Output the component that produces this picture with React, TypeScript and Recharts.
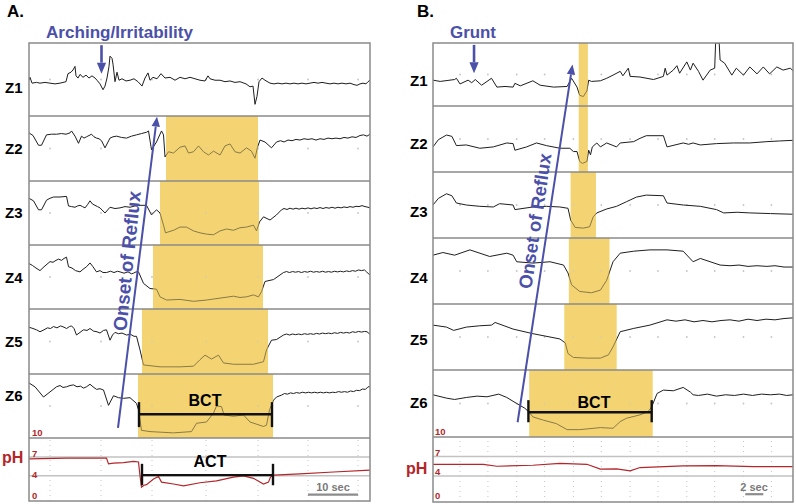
import React from 'react';
import {
  LineChart,
  Line,
  XAxis,
  YAxis,
  ReferenceArea,
  ReferenceLine,
  ReferenceDot,
} from 'recharts';

type Pt = [number, number];

// ---- Panel A (time in s, impedance = % of channel height, pH units) ----
const aZ1: Pt[] = [[0,49],[0.2,53],[0.6,45],[1.5,46],[2.2,45],[3.2,46],[4.2,45],[5.2,44],[6.2,45],[7.4,47],[7.8,58],[8.4,60],[8.8,63],[9.2,68],[9.4,55],[9.8,52],[10.2,57],[10.8,53],[11.4,56],[12,52],[12.6,55],[13.2,52],[13.6,49],[14.2,44],[14.8,36],[15.2,41],[15.6,52],[16,68],[16.2,82],[16.6,79],[16.8,71],[17.2,47],[17.6,60],[18,49],[18.6,51],[19.4,48],[20.2,49],[21,51],[21.8,47],[22.6,41],[23.2,52],[23.8,59],[24.2,49],[24.8,53],[25.6,51],[26.4,58],[27.2,52],[28.2,53],[29.2,49],[30.2,53],[31.2,51],[32.2,53],[33.2,51],[34.2,49],[35.2,48],[35.8,55],[36.2,51],[37.2,49],[38.2,49],[39.2,47],[40.2,48],[41.2,46],[42.2,47],[43.4,44],[44.2,40],[44.8,41],[45.2,16],[45.6,27],[46,47],[46.6,52],[47.2,49],[48.2,45],[49,44],[49.8,45],[50.6,44],[51.4,45],[52.2,44],[53,45],[53.8,44],[54.6,45],[55.4,44],[56.2,45],[57,46],[57.8,45],[58.6,46],[59.4,45],[60.2,44],[61,45],[61.8,44],[62.6,45],[63.4,44],[64.2,45],[65,43],[65.6,42],[66.2,44],[66.8,45],[67.4,44],[67.8,47],[68.2,49]];
const aZ2: Pt[] = [[0,74],[0.8,70],[1.9,55],[2.5,55],[3.5,71],[4.5,72],[5.5,72],[6.5,73],[7.4,72],[8.2,74],[8.5,77],[9.2,69],[9.9,58],[10.5,69],[11,66],[11.5,68],[12,70],[12.5,72],[13,68],[13.5,66],[14,65],[14.5,62],[15.2,51],[16.2,66],[16.8,68],[17.5,69],[18.5,67],[19.5,66],[20.5,69],[21.5,71],[22.5,73],[23.5,75],[23.9,77],[24.5,48],[25.5,60],[26.5,77],[26.9,71],[27.2,37],[27.9,45],[28.9,43],[30.2,52],[31.2,54],[31.9,43],[32.9,45],[33.9,54],[34.9,45],[35.9,40],[36.9,46],[38.2,40],[39.2,54],[40.2,57],[41.2,45],[42.2,43],[43.5,51],[44.5,46],[45.2,35],[45.7,52],[46.2,63],[47.2,60],[48.5,51],[49.5,60],[50.3,62],[51,60],[51.8,63],[52.6,62],[53.4,64],[54.2,63],[55,65],[55.8,64],[56.6,65],[57.4,63],[58.2,65],[59,64],[59.8,66],[60.6,65],[61.4,66],[62.2,65],[63,67],[63.8,66],[64.6,68],[65.4,67],[66.2,70],[66.9,71],[67.6,69],[68.2,72]];
const aZ3: Pt[] = [[0,73],[0.9,69],[1.9,55],[2.5,55],[3.5,70],[4.2,73],[4.9,75],[6.2,75],[7.5,76],[7.9,61],[8.5,60],[9.2,59],[9.7,61],[10.2,62],[10.7,60],[11.2,58],[11.7,63],[12.2,69],[12.7,64],[13.2,62],[13.7,60],[14.2,58],[15.2,50],[16.2,59],[17.2,57],[18.2,58],[19.2,60],[20.2,59],[21.2,61],[22.2,62],[23.5,62],[24.5,47],[25.5,55],[26.2,50],[26.9,31],[27.3,19],[28.9,23],[30.2,28],[31.5,28],[32.9,22],[34.2,19],[35.5,17],[36.9,16],[38.2,22],[39.5,25],[40.9,23],[42.2,27],[43.5,28],[44.9,31],[45.5,22],[46.1,36],[46.9,44],[48.2,39],[49.5,47],[50.5,55],[51,57],[51.6,55.5],[52.2,57.5],[52.8,56],[53.4,57.5],[54,56],[54.6,57.5],[55.2,56.5],[55.8,58],[56.4,56.5],[57,58],[57.6,57],[58.2,58.5],[58.8,57],[59.4,58.5],[60,57.5],[60.6,59],[61.2,57.5],[61.8,59],[62.4,58],[63,59.5],[63.6,58.5],[64.2,60],[64.8,59],[65.4,60.5],[66,60],[66.6,61.5],[67.2,60],[67.8,59],[68.2,58]];
const aZ4: Pt[] = [[0,71],[0.7,68],[1.4,64],[2.2,60],[3,66],[3.6,70],[4.2,74],[4.8,73],[5.4,76],[5.9,78],[6.5,76],[7,79],[7.5,81],[7.9,66],[8.6,64],[9.3,60],[10.2,58],[10.8,62],[11.5,66],[12.2,72],[12.8,66],[13.5,58],[14.2,60],[14.8,57],[15.5,57],[16.3,59],[17,57],[17.7,59],[18.2,58],[19,56],[19.8,58],[20.5,55],[20.9,56],[21.4,58],[21.9,58],[22.9,40],[24.2,32],[25.5,31],[26.2,19],[27.5,14],[30.2,15],[32.9,12],[35.5,14],[38.2,17],[40.9,20],[42.2,18],[43.5,19],[44.9,22],[45.9,19],[46.5,27],[47.2,43],[48.9,46],[50.9,57],[51.5,58.5],[52.1,57],[52.7,58.5],[53.3,57.5],[53.9,58.5],[54.5,57],[55.1,58.5],[55.7,57.5],[56.3,59],[56.9,57.5],[57.5,58.5],[58.1,57.5],[58.7,59],[59.3,57.5],[59.9,58.5],[60.5,57.5],[61.1,59],[61.7,58],[62.3,59],[62.9,58],[63.5,59.5],[64.1,58.5],[64.7,60],[65.3,59],[65.9,61],[66.5,60],[67.1,61],[67.5,58],[68.2,53]];
const aZ5: Pt[] = [[0,72],[0.8,70],[1.5,68],[2.2,65],[3,68],[3.7,71],[4.3,70],[4.9,73],[5.6,71],[6.3,74],[7,72],[7.5,70],[8.1,73],[8.5,74],[9,70],[9.5,60],[10.2,64],[10.9,68],[11.6,67],[12.2,70],[12.9,66],[13.6,65],[14.2,63],[14.9,67],[15.5,68],[16.2,52],[16.7,60],[17.2,64],[17.9,62],[18.6,63],[19.5,60],[20.3,61],[21,58],[21.5,58],[22.2,37],[22.9,14],[26.2,11],[30.2,11],[32.9,12],[34.2,22],[35.2,29],[36.5,23],[37.9,29],[38.9,17],[40.9,15],[44.9,15],[46.9,19],[47.5,37],[48.5,52],[49.5,53],[50.9,60],[51.5,61.5],[52.1,60],[52.7,61.5],[53.3,60.5],[53.9,61.5],[54.5,60.5],[55.1,62],[55.7,61],[56.3,62],[56.9,61],[57.5,62.5],[58.1,61.5],[58.7,63],[59.3,62],[59.9,63],[60.5,62],[61.1,63.5],[61.7,62.5],[62.3,64],[62.9,63],[63.5,64],[64.1,63],[64.7,65],[65.3,64],[65.9,65.5],[66.5,64.5],[67.1,65.5],[67.6,65],[68.2,61]];
const aZ6: Pt[] = [[0,86],[1.2,80],[2.9,64],[4.2,72],[5.5,80],[6.2,82],[6.8,79],[7.5,80],[8.2,82],[8.9,83],[9.6,80],[10.3,81],[10.9,78],[11.5,80],[12.2,84],[12.8,80],[13.5,76],[14.2,77],[14.9,75],[15.9,51],[16.9,66],[17.9,63],[18.9,62],[20.2,63],[21.5,54],[21.9,44],[22.5,12],[24.2,10],[28.9,8],[32.5,10],[33.5,23],[35.5,25],[36.9,39],[37.5,50],[38.5,49],[39,36],[40.9,34],[42.9,36],[44.2,25],[46.9,18],[47.5,20],[48.1,44],[48.9,59],[49.5,64],[50.5,67],[51.1,69.5],[51.7,68.5],[52.3,70.5],[52.9,69.5],[53.5,71],[54.1,70],[54.7,71.5],[55.3,70.5],[55.9,71.5],[56.5,70.5],[57.1,71.5],[57.7,70.5],[58.3,71.5],[58.9,70.5],[59.5,71.5],[60.1,70.5],[60.7,71.5],[61.3,71],[61.9,72.5],[62.5,71.5],[63.1,72.5],[63.7,71.5],[64.3,73.5],[64.9,72.5],[65.5,74.5],[66.1,74],[66.7,76.5],[67.3,76],[67.8,80],[68.2,80]];
const aPH: Pt[] = [[0,6.7],[7.5,6.8],[15.5,6.8],[15.9,5.9],[16.9,6.0],[18.9,6.1],[20.9,6.3],[21.9,6.2],[22.2,4.0],[22.5,2.2],[23,2.5],[23.5,2.6],[24.9,3.5],[25.9,3.9],[26.5,3.0],[28.9,2.7],[30.9,2.4],[34.2,2.9],[37.5,3.2],[40.9,3.8],[42.9,4.0],[44.9,3.6],[46.9,2.7],[47.9,3.0],[48.3,3.8],[48.9,4.1],[54.2,4.3],[60.9,4.6],[68.2,4.9]];
// bolus presence per channel (start, end s), Z1..Z6
const aBolus: (Pt | null)[] = [null, [27.4, 45.8], [26.2, 46], [24.8, 46.8], [22.6, 47.8], [21.8, 48.8]];
const aGrid = [4.2, 14.4, 24.6, 35.4, 45.8, 55.8, 65.8];

// ---- Panel B ----
const bZ1: Pt[] = [[0,41],[0.8,39],[2.4,42],[2.6,44],[3,35],[3.9,41],[4.3,37],[4.7,42],[5.4,33],[6.5,44],[7.1,30],[8,31],[8.9,30],[9.1,36],[9.7,32],[11.1,40],[11.9,33],[13.4,30],[14.9,31],[15.4,44],[16,30],[16.3,17],[16.7,15],[17.1,24],[17.3,41],[17.6,39],[18.6,40],[19.3,44],[20,49],[20.8,55],[21.1,48],[21.7,60],[21.9,47],[23,46],[24.5,42],[25.6,47],[25.8,60],[26,49],[26.7,57],[27.1,64],[27.4,52],[28.2,70],[28.6,57],[28.9,68],[29.5,55],[30,41],[30.8,57],[31.3,60],[31.4,100],[31.8,100],[31.9,73],[32.4,68],[33.2,49],[33.7,60],[34.5,49],[35.2,62],[36,51],[36.7,62],[37.4,51],[38.2,62],[38.9,57],[39.7,60],[40,56]];
const bZ2: Pt[] = [[0,38],[0.6,49],[1.5,56],[2.1,54],[2.6,40],[3.7,41],[5.2,36],[6.7,38],[8.2,44],[8.9,43],[9.1,33],[10.4,38],[11.5,44],[12.6,40],[14.1,36],[15.2,36],[15.6,31],[16,31],[16.3,16],[16.6,13],[17.1,16],[17.3,33],[17.5,26],[17.7,38],[18.2,44],[18.6,38],[19.3,44],[20.4,38],[20.8,44],[22.3,46],[23,51],[23.7,55],[25.6,55],[26,38],[27.8,44],[28.4,42],[28.9,44],[29.7,41],[31.5,43],[33.4,44],[35.2,44],[37.1,46],[38.5,47],[40,48]];
const bZ3: Pt[] = [[0,50],[0.6,60],[1.5,67],[2.1,64],[2.6,53],[3.7,50],[5.2,48],[6.7,47],[7.4,52],[8.9,50],[9.1,43],[11.1,47],[12.6,48],[14.1,47],[15,45],[15.3,27],[15.8,16],[16.7,15],[17.4,17],[17.8,32],[18.2,38],[19.3,44],[20.4,48],[21.5,55],[22.6,62],[23.7,65],[25.6,64],[26,53],[27.8,50],[29.7,48],[31.5,43],[32.3,38],[33.8,39],[35.2,38],[37.5,37],[40,36]];
const bZ4: Pt[] = [[0,74],[1.1,78],[2.4,74],[4.1,82],[6.3,72],[8.2,77],[8.9,74],[9.3,64],[11.1,62],[13,64],[14.5,59],[15,47],[15.4,29],[16.3,19],[17.6,17],[18.6,21],[19.3,36],[20,64],[20.8,77],[22.3,80],[24.1,82],[26,82],[27.8,80],[28.9,64],[29.7,69],[31.9,59],[33,58],[34,59],[35,57],[36,58],[37.1,57],[38,58],[39,56],[40,56]];
const bZ5: Pt[] = [[0,68],[1.5,65],[2.3,60],[3.7,65],[5.2,67],[6.5,68],[6.9,72],[8.9,62],[11.1,55],[13,50],[14.1,47],[14.7,41],[15,25],[15.6,19],[17.1,18],[18.6,18],[19.5,23],[20,35],[20.8,58],[22.3,63],[24.1,68],[26,76],[27,74],[28,76],[29,73],[30,75],[31,73],[32,75],[33,76],[34,74],[35,77],[36,75],[37,77],[38,76],[39,78],[40,79]];
const bZ6: Pt[] = [[0,63],[1.5,58],[2.4,56],[3.7,59],[4.9,61],[6,60],[7.3,64],[8.2,59],[9.3,50],[10.2,43],[10.6,38],[11.1,30],[12.3,25],[13.7,20],[14.9,11],[16.3,11],[18.6,14],[20,13],[20.8,23],[21.5,28],[23,33],[23.9,38],[24.3,45],[24.9,65],[25.6,70],[26.7,69],[27.8,74],[28.6,67],[28.9,63],[29.5,62],[30.5,64],[31.5,61],[32.5,63],[33.5,62],[34.5,64],[35.5,62],[36.5,64],[37.5,63],[38.5,64],[39.3,62],[40,63]];
const bPH: Pt[] = [[0,5.8],[5.6,5.8],[7.1,5.5],[11.1,5.65],[14.1,5.95],[17.1,5.8],[18.6,5.05],[20.4,5.1],[21.9,4.8],[23,5.3],[27.8,5.55],[31.5,5.6],[35.6,5.45],[40,5.45]];
const bBolus: (Pt | null)[] = [[16.2, 17.2], [16.2, 17.2], [15.3, 18.1], [15.1, 19.6], [14.6, 20.4], [10.7, 24.4]];
const bGrid = [3, 6.1, 9.3, 12.4, 15.6, 18.7, 21.9, 25, 28.2, 31.3, 34.5, 37.6];

const phLevels = [7, 4];

const FONT = '"Liberation Sans", Arial, Helvetica, sans-serif';
const YELLOW = '#f4d472';
const BLUE = '#4b50a8';
const RED = '#b3262a';
const FRAME = '#8a8a8a';

type Arrow = { a: [number, number, number]; b: [number, number, number]; head: number; w: number };
type Bracket = { row: number; t1: number; t2: number; v: number; lo: number; hi: number };

type PanelSpec = {
  left: number;
  top: number;
  width: number;
  duration: number;
  rowHeights: number[];
  traces: Pt[][];
  ph: Pt[];
  bolus: (Pt | null)[];
  grid: number[];
  arrows: Arrow[];
  brackets: Bracket[];
  scale: [number, number, number];
};

const arrowShape = (head: number, w: number) => (props: any) => {
  const { x1, y1, x2, y2 } = props;
  const ang = Math.atan2(y2 - y1, x2 - x1);
  const bx = x2 - head * Math.cos(ang);
  const by = y2 - head * Math.sin(ang);
  const px = -Math.sin(ang) * head * 0.42;
  const py = Math.cos(ang) * head * 0.42;
  return (
    <g>
      <line x1={x1} y1={y1} x2={bx} y2={by} stroke={BLUE} strokeWidth={w} />
      <polygon points={`${x2},${y2} ${bx + px},${by + py} ${bx - px},${by - py}`} fill={BLUE} />
    </g>
  );
};

function Panel(p: PanelSpec) {
  const n = p.rowHeights.length;
  const bottoms: number[] = [];
  let acc = 0;
  for (let i = n - 1; i >= 0; i--) {
    bottoms[i] = acc;
    acc += p.rowHeights[i];
  }
  const total = acc;
  const yOf = (row: number, v: number) => bottoms[row] + (v / 100) * p.rowHeights[row];
  const PH = n - 1;
  const m = 3;

  return (
    <div style={{ position: 'absolute', left: p.left - m, top: p.top - m }}>
      <LineChart
        width={p.width + 2 * m}
        height={total + 2 * m}
        margin={{ top: m, right: m, bottom: m, left: m }}
      >
        <XAxis type="number" dataKey="t" domain={[0, p.duration]} hide allowDataOverflow />
        <YAxis type="number" domain={[0, total]} hide allowDataOverflow />

        {p.bolus.map((b, i) =>
          b ? (
            <ReferenceArea key={`bb${i}`} x1={b[0]} x2={b[1]} y1={yOf(i, 0)} y2={yOf(i, 100)}
              fill={YELLOW} fillOpacity={1} stroke="none" zIndex={50} />
          ) : null,
        )}

        {p.traces.map((_, i) =>
          p.grid.map((g, k) => (
            <ReferenceDot key={`d${i}-${k}`} x={g} y={yOf(i, 50)} r={0.9} fill="#c4c4c4" stroke="none" zIndex={60} />
          )),
        )}
        {p.grid.map((g, k) => (
          <ReferenceLine key={`pg${k}`} segment={[{ x: g, y: yOf(PH, 0) }, { x: g, y: yOf(PH, 100) }]}
            stroke="#c4c4c4" strokeDasharray="1 4" strokeWidth={1} zIndex={60} />
        ))}
        {phLevels.map((l) => (
          <ReferenceLine key={`pl${l}`} y={yOf(PH, l * 10)} stroke="#c2c2c2" strokeWidth={1.5} zIndex={60} />
        ))}

        {p.traces.map((tr, i) => (
          <Line key={`z${i}`} data={tr.map(([t, v]) => ({ t, y: yOf(i, v) }))} dataKey="y" type="linear"
            stroke="#1e1e1e" strokeWidth={1} dot={false} activeDot={false} isAnimationActive={false} />
        ))}
        <Line data={p.ph.map(([t, v]) => ({ t, y: yOf(PH, v * 10) }))} dataKey="y" type="linear"
          stroke={RED} strokeWidth={1.2} dot={false} activeDot={false} isAnimationActive={false} />

        {p.bolus.map((b, i) =>
          b ? (
            <ReferenceArea key={`bf${i}`} x1={b[0]} x2={b[1]} y1={yOf(i, 0)} y2={yOf(i, 100)}
              fill={YELLOW} fillOpacity={0.5} stroke="none" zIndex={450} />
          ) : null,
        )}

        {bottoms.slice(0, n - 1).map((b, i) => (
          <ReferenceLine key={`s${i}`} y={b} stroke={FRAME} strokeWidth={1.5} zIndex={460} />
        ))}
        <ReferenceArea x1={0} x2={p.duration} y1={0} y2={total} fill="none" stroke={FRAME}
          strokeWidth={1.5} zIndex={460} />

        <ReferenceLine segment={[{ x: p.scale[0], y: yOf(PH, p.scale[2]) }, { x: p.scale[1], y: yOf(PH, p.scale[2]) }]}
          stroke="#8c8c8c" strokeWidth={2.2} zIndex={470} />

        {p.brackets.map((br, i) => [
          <ReferenceLine key={`bh${i}`} segment={[{ x: br.t1, y: yOf(br.row, br.v) }, { x: br.t2, y: yOf(br.row, br.v) }]}
            stroke="#111" strokeWidth={2.4} zIndex={470} />,
          <ReferenceLine key={`bl${i}`} segment={[{ x: br.t1, y: yOf(br.row, br.lo) }, { x: br.t1, y: yOf(br.row, br.hi) }]}
            stroke="#111" strokeWidth={2.4} zIndex={470} />,
          <ReferenceLine key={`br${i}`} segment={[{ x: br.t2, y: yOf(br.row, br.lo) }, { x: br.t2, y: yOf(br.row, br.hi) }]}
            stroke="#111" strokeWidth={2.4} zIndex={470} />,
        ])}

        {p.arrows.map((ar, i) => (
          <ReferenceLine key={`ar${i}`} segment={[{ x: ar.a[0], y: yOf(ar.a[1], ar.a[2]) }, { x: ar.b[0], y: yOf(ar.b[1], ar.b[2]) }]}
            shape={arrowShape(ar.head, ar.w)} zIndex={480} />
        ))}
      </LineChart>
    </div>
  );
}

const channelNames = ['Z1', 'Z2', 'Z3', 'Z4', 'Z5', 'Z6'];
const aLabelY = [93, 154, 218, 283, 347, 401];
const bLabelY = [86, 149, 217, 283, 345, 408];
const phTickLabels = ['10', '7', '4', '0'];
const aTickY = [436, 457, 478, 499];
const bTickY = [435, 456, 475, 499];

export default function App() {
  return (
    <div style={{ position: 'absolute', left: 0, top: 0, width: 796, height: 504, background: '#fff', overflow: 'hidden' }}>
      <Panel
        left={29} top={43} width={341} duration={68.2}
        rowHeights={[73, 65, 64, 64, 65, 64, 63]}
        traces={[aZ1, aZ2, aZ3, aZ4, aZ5, aZ6]} ph={aPH} bolus={aBolus} grid={aGrid}
        arrows={[
          { a: [17.8, 5, 16], b: [25.6, 1, 99], head: 10, w: 2 },
          { a: [14.5, 0, 97], b: [14.5, 0, 58], head: 11, w: 2.6 },
        ]}
        brackets={[
          { row: 5, t1: 22, t2: 48.6, v: 37, lo: 17, hi: 56 },
          { row: 6, t1: 22.6, t2: 48.8, v: 41, lo: 25, hi: 59 },
        ]}
        scale={[55.8, 65.8, 10]}
      />
      <Panel
        left={433} top={43} width={360} duration={40}
        rowHeights={[63, 66, 66, 66, 66, 67, 65]}
        traces={[bZ1, bZ2, bZ3, bZ4, bZ5, bZ6]} ph={bPH} bolus={bBolus} grid={bGrid}
        arrows={[
          { a: [9.4, 5, 22], b: [15.5, 0, 66], head: 10, w: 2 },
          { a: [4.56, 0, 97], b: [4.56, 0, 52], head: 11, w: 2.6 },
        ]}
        brackets={[{ row: 5, t1: 10.6, t2: 24.3, v: 37, lo: 22, hi: 55 }]}
        scale={[34.7, 36.7, 12]}
      />

      <svg width={796} height={504} style={{ position: 'absolute', left: 0, top: 0, pointerEvents: 'none' }}
        fontFamily={FONT} fontWeight="bold">
        <text x={7} y={17} fontSize={17}>A.</text>
        <text x={417} y={17} fontSize={17}>B.</text>
        <text x={46} y={38} fontSize={16} fill={BLUE} textLength={147} lengthAdjust="spacingAndGlyphs">Arching/Irritability</text>
        <text x={450} y={38} fontSize={16} fill={BLUE} textLength={46} lengthAdjust="spacingAndGlyphs">Grunt</text>

        {channelNames.map((c, i) => (
          <text key={`la${c}`} x={5} y={aLabelY[i]} fontSize={15}>{c}</text>
        ))}
        {channelNames.map((c, i) => (
          <text key={`lb${c}`} x={410} y={bLabelY[i]} fontSize={15}>{c}</text>
        ))}
        <text x={2} y={463} fontSize={16} fill={RED}>pH</text>
        <text x={406} y={474} fontSize={16} fill={RED}>pH</text>

        {phTickLabels.map((s, i) => (
          <text key={`na${s}`} x={32} y={aTickY[i]} fontSize={9.5} fill={RED}>{s}</text>
        ))}
        {phTickLabels.map((s, i) => (
          <text key={`nb${s}`} x={435} y={bTickY[i]} fontSize={9.5} fill={RED}>{s}</text>
        ))}

        <text x={333} y={491} fontSize={11} fill="#7a7a7a" textAnchor="middle">10 sec</text>
        <text x={754} y={491} fontSize={11} fill="#7a7a7a" textAnchor="middle">2 sec</text>

        <text x={205} y={406} fontSize={16} textAnchor="middle">BCT</text>
        <text x={210} y={467} fontSize={16} textAnchor="middle">ACT</text>
        <text x={594} y={408} fontSize={16} textAnchor="middle">BCT</text>

        <text transform="translate(127,261) rotate(-84)" fontSize={19} fill={BLUE} textAnchor="middle" dominantBaseline="central">Onset of Reflux</text>
        <text transform="translate(535,221) rotate(-81.5)" fontSize={18.5} fill={BLUE} textAnchor="middle" dominantBaseline="central">Onset of Reflux</text>
      </svg>
    </div>
  );
}
